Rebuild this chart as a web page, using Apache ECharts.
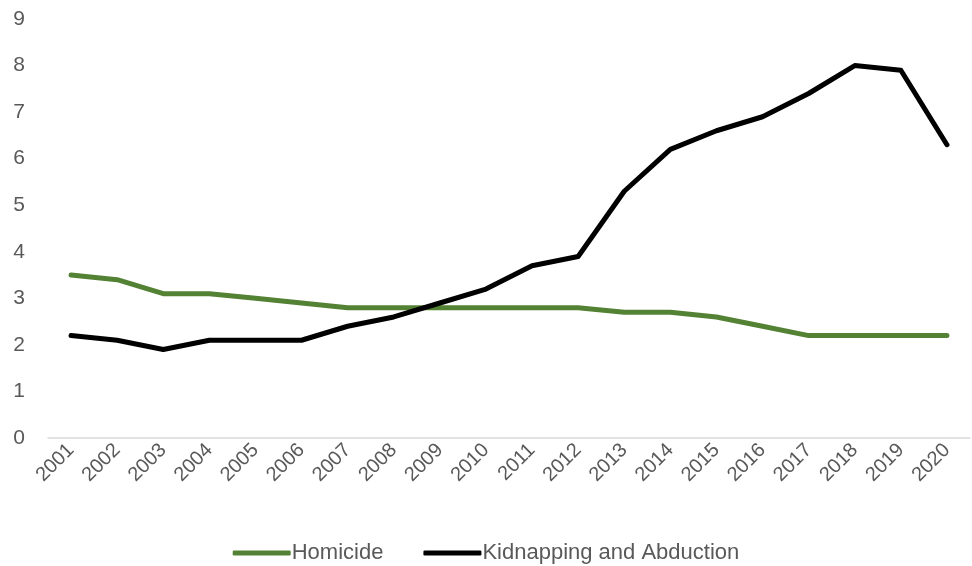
<!DOCTYPE html>
<html><head><meta charset="utf-8">
<script src="https://cdn.jsdelivr.net/npm/echarts@6/dist/echarts.min.js"></script>
<style>html,body{margin:0;padding:0;background:#fff}#c{width:972px;height:566px}</style>
</head><body><div id="c"></div>
<script>
const years = ['2001','2002','2003','2004','2005','2006','2007','2008','2009','2010','2011','2012','2013','2014','2015','2016','2017','2018','2019','2020'];
const homicide = [3.5,3.4,3.1,3.1,3.0,2.9,2.8,2.8,2.8,2.8,2.8,2.8,2.7,2.7,2.6,2.4,2.2,2.2,2.2,2.2];
const kidnapping = [2.2,2.1,1.9,2.1,2.1,2.1,2.4,2.6,2.9,3.2,3.7,3.9,5.3,6.2,6.6,6.9,7.4,8.0,7.9,6.3];
const yTicks = [0,1,2,3,4,5,6,7,8,9];
const FONT = '"Liberation Sans",sans-serif';
const chart = echarts.init(document.getElementById('c'));
chart.setOption({
  animation:false,
  grid:{left:48,right:2,top:19,bottom:128,containLabel:false},
  legend:{bottom:-3,left:'center',itemGap:40,itemWidth:58,itemHeight:5,icon:'roundRect',
    textStyle:{fontFamily:FONT,fontSize:22,color:'#595959',padding:[0,0,0,-4]},
    data:['Homicide','Kidnapping and Abduction']},
  xAxis:{type:'category',data:years,boundaryGap:true,
    axisLine:{lineStyle:{color:'#d9d9d9',width:1.5}},axisTick:{show:false},
    axisLabel:{rotate:45,interval:0,fontFamily:FONT,fontSize:20,color:'#595959',margin:9}},
  yAxis:{type:'value',min:yTicks[0],max:yTicks[yTicks.length-1],interval:1,
    axisLine:{show:false},axisTick:{show:false},splitLine:{show:false},
    axisLabel:{fontFamily:FONT,fontSize:21,color:'#595959',margin:23}},
  series:[
    {name:'Homicide',type:'line',data:homicide,showSymbol:false,symbol:'none',
     lineStyle:{color:'#548235',width:5,cap:'round',join:'round'},itemStyle:{color:'#548235'}},
    {name:'Kidnapping and Abduction',type:'line',data:kidnapping,showSymbol:false,symbol:'none',
     lineStyle:{color:'#000000',width:5,cap:'round',join:'round'},itemStyle:{color:'#000000'}}
  ]
});
</script></body></html>
